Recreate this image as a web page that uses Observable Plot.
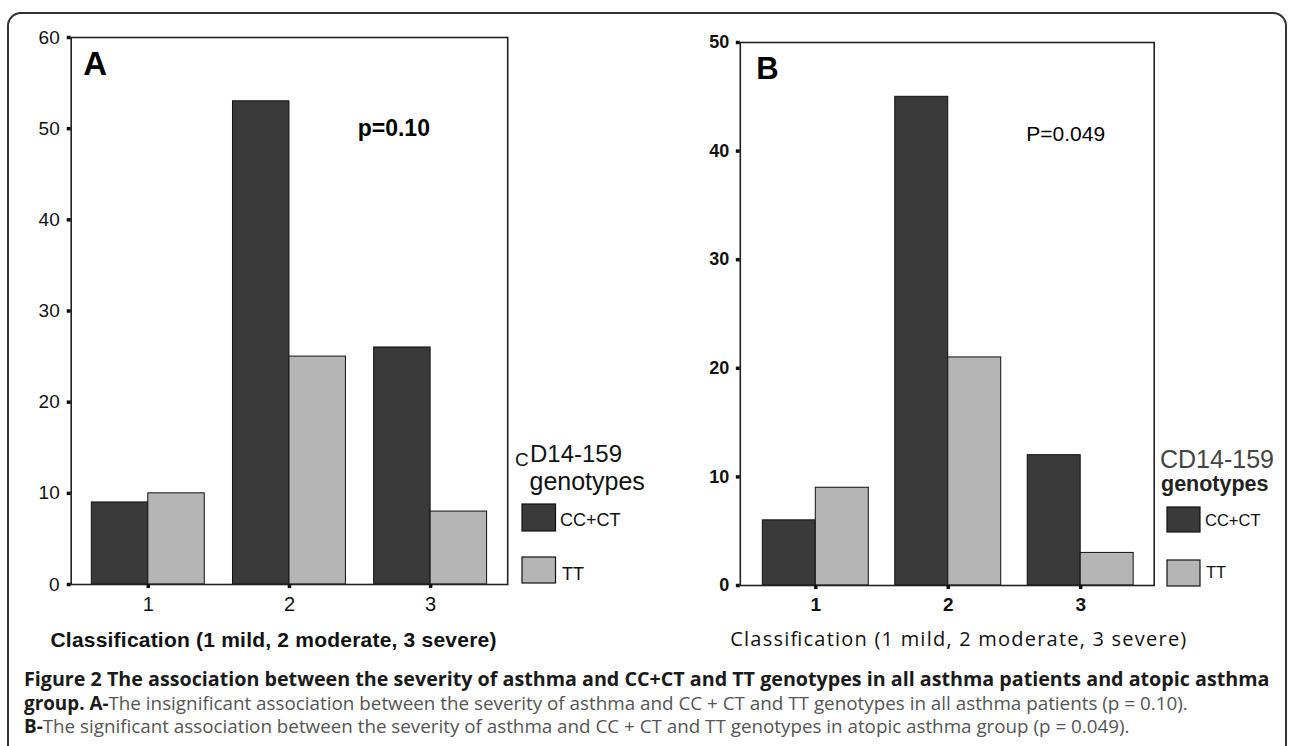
<!DOCTYPE html>
<html><head><meta charset="utf-8">
<script src="https://cdn.jsdelivr.net/npm/d3@7"></script>
<script src="https://cdn.jsdelivr.net/npm/@observablehq/plot@0.6"></script>
<style>
html,body{margin:0;padding:0;background:#fff;width:1292px;height:746px;overflow:hidden;position:relative}
#frame{position:absolute;left:7px;top:12px;width:1280px;height:790px;border:2px solid #333;border-radius:14px;box-sizing:border-box}
.panel{position:absolute;top:0}
.panel svg{overflow:visible}
#overlay{position:absolute;left:0;top:0}
</style></head><body>
<div id="frame"></div>
<div id="pa" class="panel" style="left:0px"></div>
<div id="pb" class="panel" style="left:660px"></div>
<svg id="overlay" width="1292" height="746"></svg>
<script>
// ---- data ----
const categories = [1, 2, 3];
const genotypes = ["CC+CT", "TT"];
const allCCCT = [9, 53, 26];     // panel A, all asthma patients
const allTT = [10, 25, 8];
const atopicCCCT = [6, 45, 12];  // panel B, atopic asthma group
const atopicTT = [9, 21, 3];
const yTicksA = [0, 10, 20, 30, 40, 50, 60];
const yTicksB = [0, 10, 20, 30, 40, 50];
const xLabel = "Classification (1 mild, 2 moderate, 3 severe)";
const pA = "p=0.10";
const pB = "P=0.049";
const colors = ["#3a3a3a", "#b5b5b5"];

function rows(cc, tt) {
  return categories.flatMap((c, i) => [
    {cat: c, geno: genotypes[0], gi: 0, value: cc[i]},
    {cat: c, geno: genotypes[1], gi: 1, value: tt[i]}
  ]);
}

function panel(o) {
  return Plot.plot({
    width: o.width, height: o.height,
    marginLeft: o.ml, marginRight: o.mr, marginTop: o.mt, marginBottom: o.mb,
    style: {background: "transparent", fontFamily: "'Liberation Sans', Arial, sans-serif", color: "#111"},
    x: {type: "linear", domain: o.xDomain, axis: null},
    y: {domain: o.yDomain, axis: null},
    color: {domain: genotypes, range: colors},
    marks: [
      Plot.rect(o.data, {
        x1: d => d.cat - 0.4 + 0.4 * d.gi,
        x2: d => d.cat + 0.4 * d.gi,
        y1: 0, y2: "value",
        fill: "geno", stroke: "#111", strokeWidth: 1
      }),
      Plot.frame({stroke: "#222", strokeWidth: 1.6}),
      Plot.axisY({ticks: o.yTicks, tickSize: 4, tickPadding: o.yPad, strokeWidth: 3.5,
        fontSize: o.tickFont, fontWeight: o.tickWeight, tickFormat: d => String(d), label: null}),
      Plot.axisX({ticks: categories, tickSize: 4, tickPadding: 8, strokeWidth: 3.5,
        fontSize: o.xTickFont, fontWeight: o.tickWeight, tickFormat: d => String(d), label: null}),
      Plot.text([o.letter], {text: d => d, frameAnchor: "top-left", textAnchor: "start", lineAnchor: "top",
        dx: o.letterDx, dy: o.letterDy, fontSize: o.letterSize, fontWeight: "bold", fill: "#000"}),
      Plot.text([o.p], {text: d => d, frameAnchor: "top-left", textAnchor: "start", lineAnchor: "top",
        dx: o.pDx, dy: o.pDy, fontSize: o.pSize, fontWeight: o.pWeight, fill: "#000"}),
      Plot.text([xLabel], {text: d => d, frameAnchor: "bottom", lineAnchor: "middle",
        dx: o.labDx, dy: o.labDy, fontSize: o.labSize, fontWeight: o.labWeight,
        fontFamily: o.labFont, fill: "#111", className: "xlab"})
    ]
  });
}

const plotA = panel({
  data: rows(allCCCT, allTT), width: 660, height: 660,
  ml: 70.7, mr: 152.8, mt: 37, mb: 76,
  xDomain: [0.454, 3.546], yDomain: [0, 60], yTicks: yTicksA, yPad: 7.5,
  tickFont: 19, xTickFont: 20, tickWeight: "normal",
  letter: "A", letterDx: 12, letterDy: 14, letterSize: 33,
  p: pA, pDx: 286.5, pDy: 82, pSize: 23, pWeight: "bold",
  labDx: -16, labDy: 56, labSize: 21, labWeight: "bold", labFont: "'Liberation Sans', Arial, sans-serif"
});
document.getElementById("pa").append(plotA);

const plotB = panel({
  data: rows(atopicCCCT, atopicTT), width: 632, height: 660,
  ml: 79.8, mr: 138.3, mt: 42, mb: 75,
  xDomain: [0.43, 3.555], yDomain: [0, 50], yTicks: yTicksB, yPad: 7,
  tickFont: 18, xTickFont: 19, tickWeight: "bold",
  letter: "B", letterDx: 16, letterDy: 14, letterSize: 31,
  p: pB, pDx: 286, pDy: 84, pSize: 21, pWeight: "normal",
  labDx: 11, labDy: 54, labSize: 20, labWeight: "normal", labFont: "'Open Sans', sans-serif"
});
document.getElementById("pb").append(plotB);

// stretch x-axis titles to the reference width
function setLen(plot, w) {
  const t = plot.querySelector(".xlab text");
  if (t) { t.setAttribute("textLength", w); t.setAttribute("lengthAdjust", "spacing"); }
}
setLen(plotA, 446);
setLen(plotB, 456);

// ---- legends and caption ----
const svg = d3.select("#overlay");
function txt(x, y, s, size, opts = {}) {
  return svg.append("text").attr("x", x).attr("y", y).text(s)
    .attr("font-size", size)
    .attr("font-family", opts.font || "'Liberation Sans', Arial, sans-serif")
    .attr("font-weight", opts.weight || "normal")
    .attr("fill", opts.fill || "#111");
}
function sw(x, y, w, h, c) {
  svg.append("rect").attr("x", x).attr("y", y).attr("width", w).attr("height", h)
    .attr("fill", c).attr("stroke", "#111").attr("stroke-width", 1.2);
}
// Legend A
txt(515, 466, "C", 19);
txt(530, 462, "D14-159", 24);
txt(529.5, 490, "genotypes", 25);
sw(522, 504, 33.5, 27, colors[0]);
txt(560, 526, genotypes[0], 18);
sw(522, 557, 33.5, 26, colors[1]);
txt(562, 580, genotypes[1], 18);
// Legend B
txt(1160, 468, "CD14-159", 25, {fill: "#444"});
txt(1161, 491, "genotypes", 21.5, {weight: "bold", fill: "#222"});
sw(1167, 507, 33, 25, colors[0]);
txt(1205, 526, genotypes[0], 16.5);
sw(1167, 560, 33, 26, colors[1]);
txt(1206, 578, genotypes[1], 16.5);

// Caption: font size fitted to the reference line widths
const capFont = "'Open Sans', sans-serif";
const capLines = [
  {y: 686, target: 1246, parts: [["Figure 2 The association between the severity of asthma and CC+CT and TT genotypes in all asthma patients and atopic asthma", true]]},
  {y: 709.5, target: 1164, parts: [["group. A-", true], ["The insignificant association between the severity of asthma and CC + CT and TT genotypes in all asthma patients (p = 0.10).", false]]},
  {y: 733, target: 1106, parts: [["B-", true], ["The significant association between the severity of asthma and CC + CT and TT genotypes in atopic asthma group (p = 0.049).", false]]}
];
for (const line of capLines) {
  const t = svg.append("text").attr("x", 24).attr("y", line.y)
    .attr("font-family", capFont).attr("font-size", 20);
  for (const [s, b] of line.parts) {
    t.append("tspan").text(s).attr("font-weight", b ? "bold" : "normal")
      .attr("fill", b ? "#1a1a1a" : "#555");
  }
  const w = t.node().getComputedTextLength();
  t.attr("font-size", 20 * line.target / w);
}
</script>
</body></html>
